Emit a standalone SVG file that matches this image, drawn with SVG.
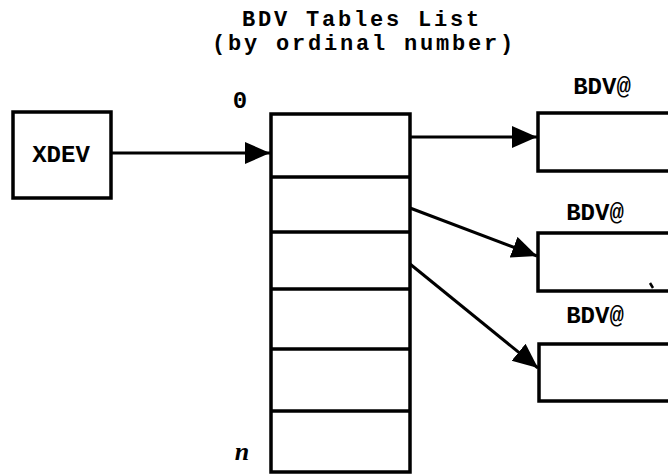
<svg xmlns="http://www.w3.org/2000/svg" width="668" height="474" viewBox="0 0 668 474">
  <style>
    .box { fill: #ffffff; stroke: #000000; stroke-width: 3.5; }
    .div { stroke: #000000; stroke-width: 3.5; fill: none; }
    .conn { stroke: #000000; stroke-width: 3; fill: none; marker-end: url(#ah); }
    .title { font-family: "Liberation Mono", "Courier New", monospace; font-size: 22px; letter-spacing: 2.8px; font-weight: bold; fill: #000; text-anchor: middle; }
    .lbl { font-family: "Liberation Mono", "Courier New", monospace; font-size: 24px; font-weight: bold; fill: #000; text-anchor: middle; }
    .idx { font-family: "Liberation Mono", "Courier New", monospace; font-size: 24px; font-weight: bold; fill: #000; text-anchor: middle; }
    .ital { font-family: "Liberation Serif", "Times New Roman", serif; font-size: 26px; font-weight: bold; font-style: italic; fill: #000; text-anchor: middle; }
  </style>
  <defs>
    <marker id="ah" markerUnits="userSpaceOnUse" markerWidth="26" markerHeight="24" refX="25" refY="11" orient="auto">
      <path d="M0,0 L25,11 L0,22 Z" fill="#000"/>
    </marker>
  </defs>
  <rect width="668" height="474" fill="#ffffff"/>

  <g id="title">
    <text class="title" x="362" y="25.5">BDV Tables List</text>
    <text class="title" x="364" y="50">(by ordinal number)</text>
  </g>

  <g id="xdev">
    <rect class="box" x="13" y="112" width="98" height="86"/>
    <text class="lbl" x="61" y="162">XDEV</text>
  </g>

  <g id="list">
    <rect class="box" x="271" y="114" width="139" height="358"/>
    <line class="div" x1="271" y1="177" x2="410" y2="177"/>
    <line class="div" x1="271" y1="232" x2="410" y2="232"/>
    <line class="div" x1="271" y1="289" x2="410" y2="289"/>
    <line class="div" x1="271" y1="349" x2="410" y2="349"/>
    <line class="div" x1="271" y1="411" x2="410" y2="411"/>
    <text class="idx" x="240" y="108">0</text>
    <text class="ital" x="242" y="460">n</text>
  </g>

  <g id="bdv1">
    <rect class="box" x="538" y="113" width="140" height="58"/>
    <text class="lbl" x="602" y="94">BDV@</text>
  </g>

  <g id="bdv2">
    <rect class="box" x="538" y="233" width="140" height="58"/>
    <text class="lbl" x="595" y="220">BDV@</text>
    <path d="M650,283 L653,288" stroke="#000" stroke-width="2.5" fill="none"/>
  </g>

  <g id="bdv3">
    <rect class="box" x="539" y="344" width="140" height="57"/>
    <text class="lbl" x="595" y="323">BDV@</text>
  </g>

  <g id="connectors">
    <line class="conn" x1="111" y1="153" x2="270" y2="153"/>
    <line class="conn" x1="410" y1="137" x2="537" y2="137"/>
    <line class="conn" x1="410" y1="208" x2="537" y2="256"/>
    <line class="conn" x1="410" y1="264" x2="538" y2="368"/>
  </g>
</svg>
